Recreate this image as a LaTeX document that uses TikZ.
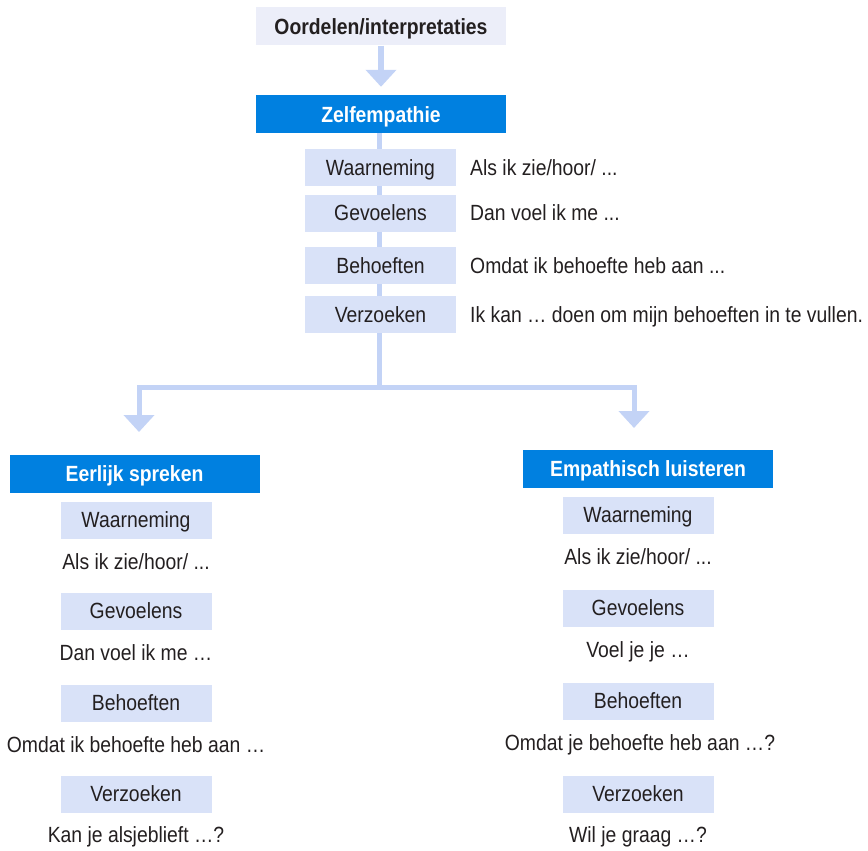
\documentclass[tikz,border=0pt]{standalone}
\usepackage{fontspec}
\setmainfont[FakeStretch=0.88]{Liberation Sans}
\usepackage{xcolor}
\usepackage{tikz}
\usetikzlibrary{arrows.meta, positioning}
\definecolor{nvcblue}{RGB}{0, 128, 224}
\definecolor{nvclight}{RGB}{217, 226, 248}
\definecolor{nvcpale}{RGB}{236, 238, 249}
\definecolor{nvcflow}{RGB}{195, 211, 246}
\definecolor{nvctext}{RGB}{35, 31, 32}

\begin{document}
\begin{tikzpicture}[
    x=1pt, y=-1pt,
    head/.style={rectangle, fill=#1, minimum width=250pt, minimum height=38pt, inner sep=0pt, text height=16pt, text depth=0pt, font=\fontsize{22}{26}\selectfont\bfseries},
    part/.style={rectangle, fill=nvclight, minimum width=151pt, minimum height=37pt, inner sep=0pt, text height=15.5pt, text depth=0pt, text=nvctext, font=\fontsize{22}{25}\selectfont},
    say/.style={inner sep=0pt, text height=15.5pt, text depth=0pt, text=nvctext, font=\fontsize{22}{25}\selectfont},
    flow/.style={draw=nvcflow, line width=5pt},
    arr/.style={flow, -{Triangle[width=30pt, length=17pt]}}
]
\useasboundingbox (0,0) rectangle (868,851);

% Top: judgements -> self-empathy
\node[head=nvcpale, text=nvctext] (judge) at (381, 26.5) {Oordelen/interpretaties};
\node[head=nvcblue, text=white] (self) at (381, 114) {Zelfempathie};
\draw[arr, line width=6pt, shorten >=8pt] (judge) -- (self);

% Split into the two branches
\coordinate (split) at (379, 387);
\coordinate (lend) at (139, 432);
\coordinate (rend) at (634, 428);
\draw[flow] (self.south -| split) -- (split);
\draw[arr] (split) -| (lend);
\draw[arr] (split) -| (rend);

% Self-empathy steps
\node[part] (sw) at (380.5, 167.5) {Waarneming};
\node[part] (sg) at (380.5, 213) {Gevoelens};
\node[part] (sb) at (380.5, 265.5) {Behoeften};
\node[part] (sv) at (380.5, 314.5) {Verzoeken};
\node[say, anchor=west] (swt) at (470, 167.5) {Als ik zie/hoor/ ...};
\node[say, anchor=west] (sgt) at (470, 213) {Dan voel ik me ...};
\node[say, anchor=west] (sbt) at (470, 265.5) {Omdat ik behoefte heb aan ...};
\node[say, anchor=west] (svt) at (470, 314.5) {Ik kan … doen om mijn behoeften in te vullen.};

% Left branch
\node[head=nvcblue, text=white] (honest) at (134.5, 473.5) {Eerlijk spreken};
\node[part] (hw) at (136, 520) {Waarneming};
\node[say] (hwt) at (136, 562) {Als ik zie/hoor/ ...};
\node[part] (hg) at (136, 611) {Gevoelens};
\node[say] (hgt) at (136, 653) {Dan voel ik me …};
\node[part] (hb) at (136, 703) {Behoeften};
\node[say] (hbt) at (136, 745) {Omdat ik behoefte heb aan …};
\node[part] (hv) at (136, 794) {Verzoeken};
\node[say] (hvt) at (136, 835) {Kan je alsjeblieft …?};

% Right branch
\node[head=nvcblue, text=white] (listen) at (648, 468.5) {Empathisch luisteren};
\node[part] (lw) at (638, 515) {Waarneming};
\node[say] (lwt) at (638, 557) {Als ik zie/hoor/ ...};
\node[part] (lg) at (638, 608) {Gevoelens};
\node[say] (lgt) at (638, 650) {Voel je je …};
\node[part] (lb) at (638, 701) {Behoeften};
\node[say] (lbt) at (640, 743) {Omdat je behoefte heb aan …?};
\node[part] (lv) at (638, 794) {Verzoeken};
\node[say] (lvt) at (638, 835) {Wil je graag …?};

\end{tikzpicture}
\end{document}
